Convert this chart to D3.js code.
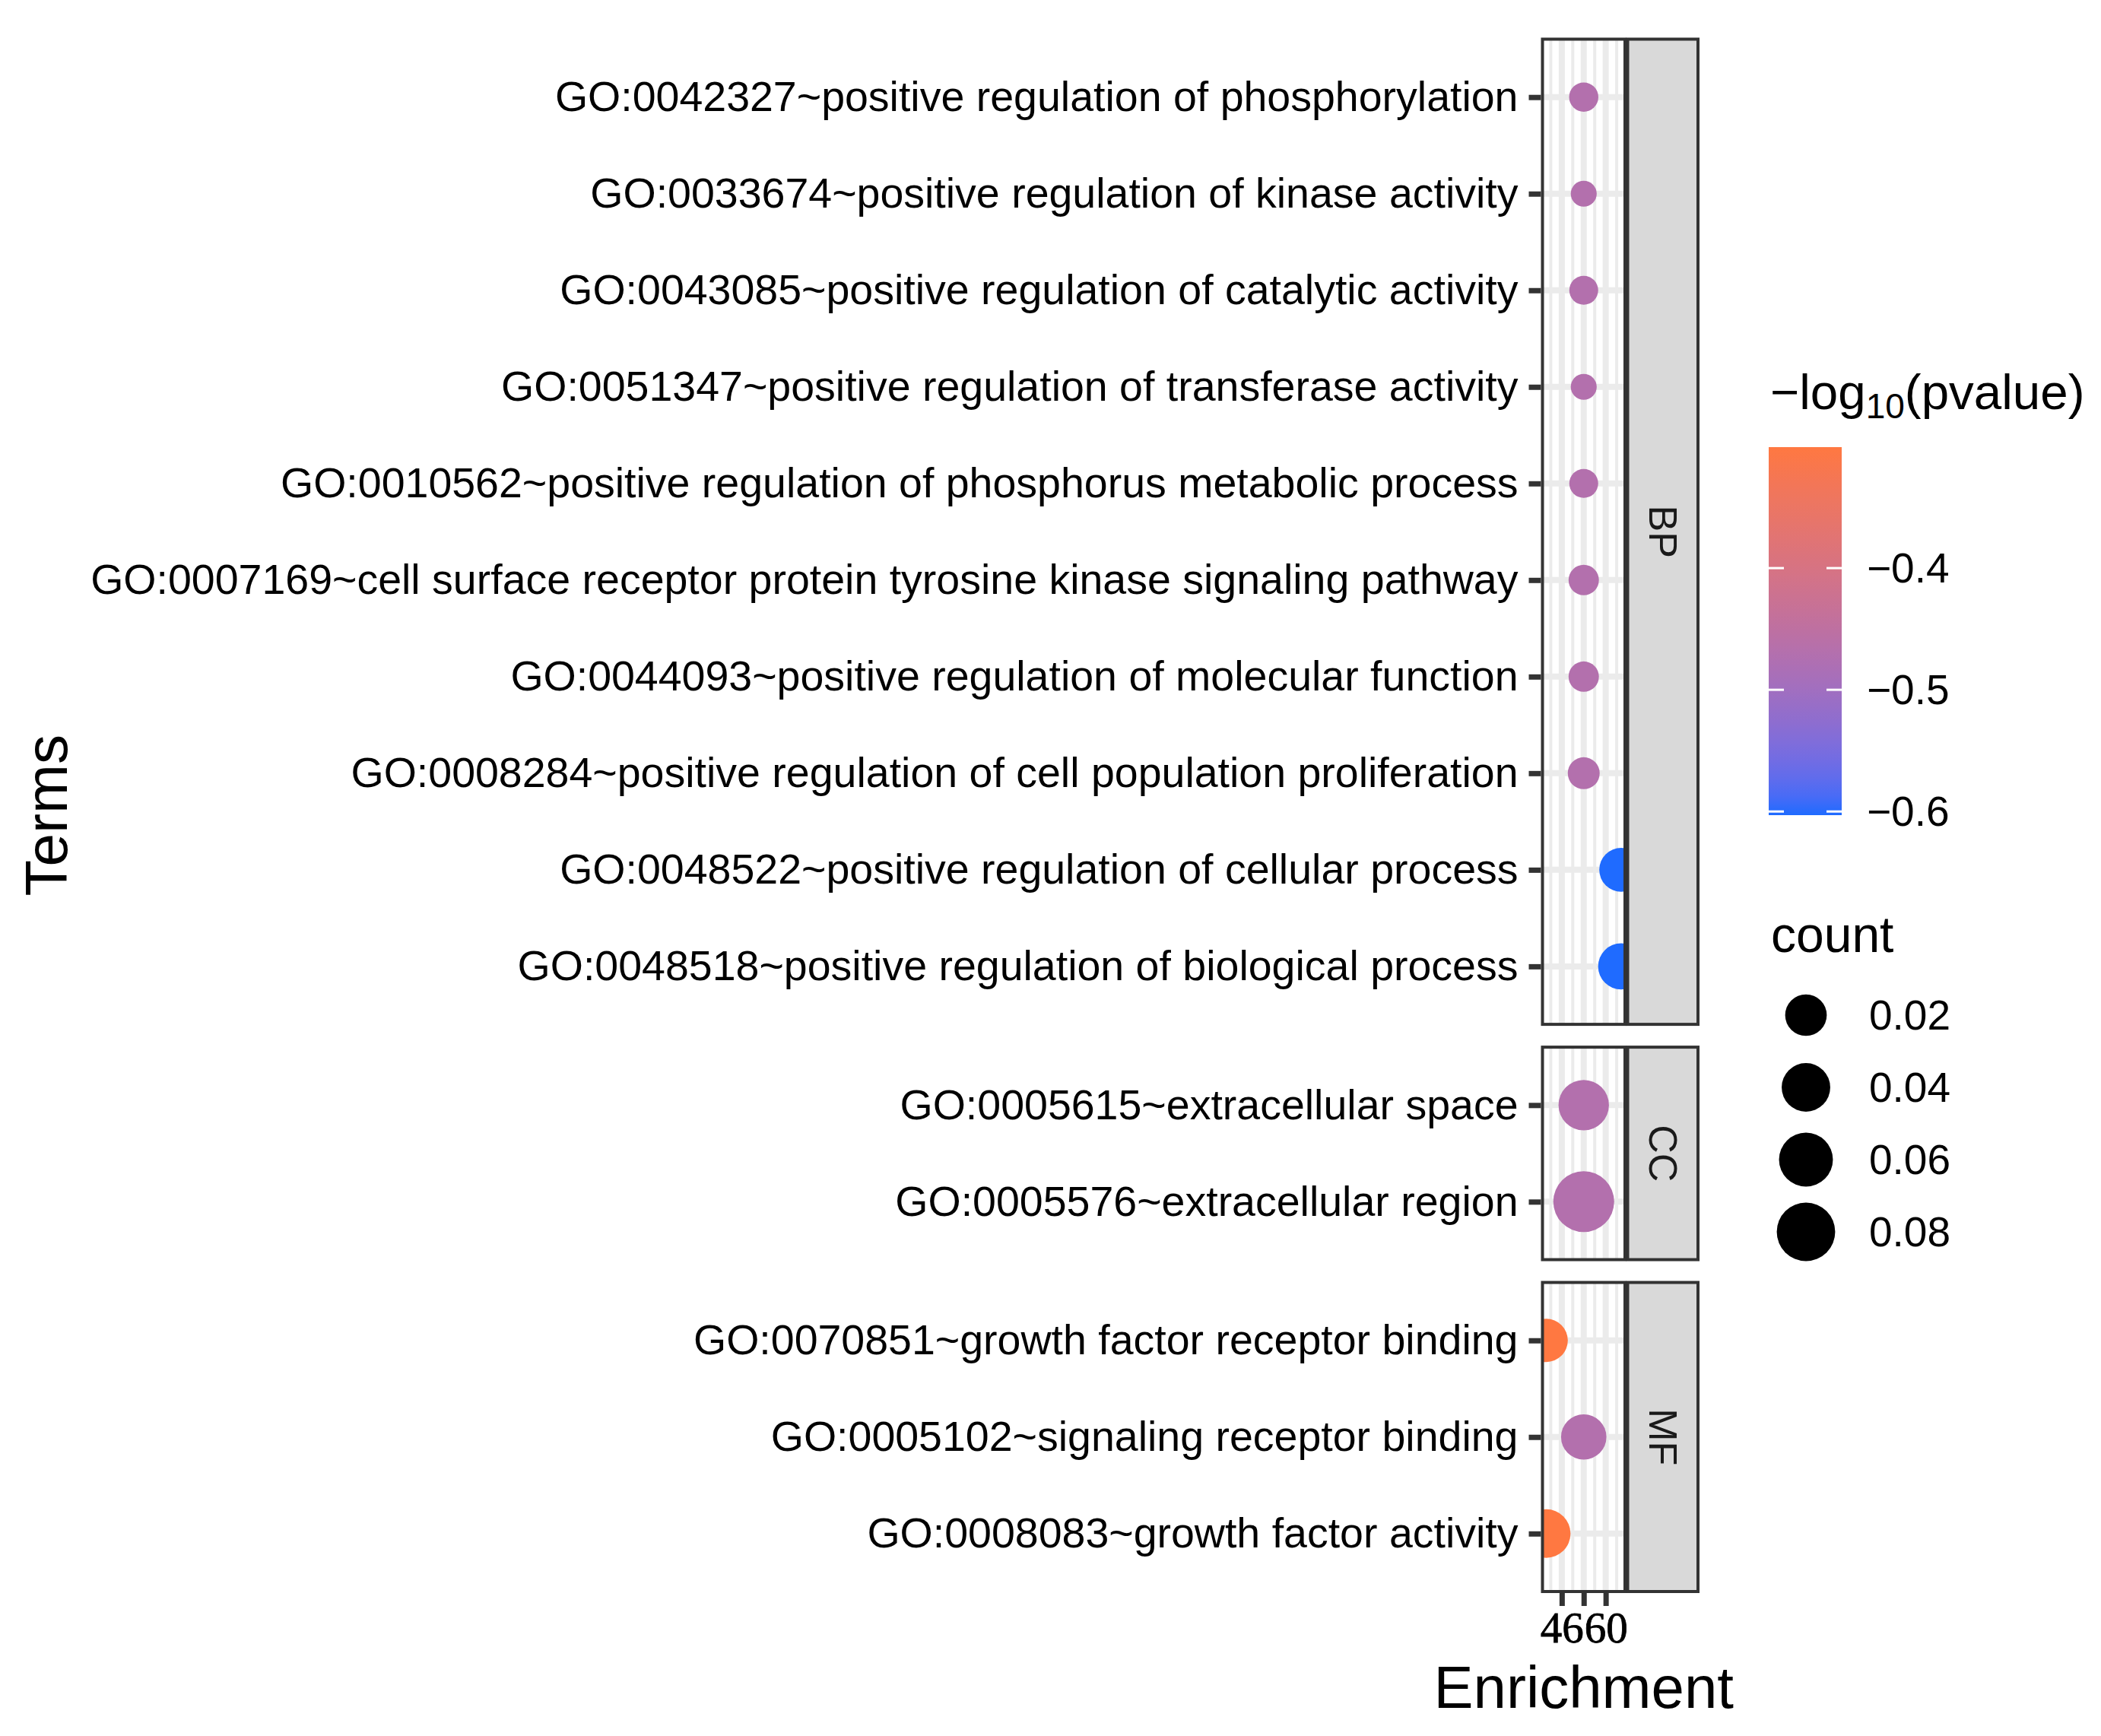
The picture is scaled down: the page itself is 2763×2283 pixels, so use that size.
<!DOCTYPE html>
<html>
<head>
<meta charset="utf-8">
<script src="https://cdn.jsdelivr.net/npm/d3@7"></script>
<style>
  html, body { margin: 0; padding: 0; background: #fff; }
  svg { display: block; }
</style>
</head>
<body>
<svg id="chart"></svg>
<script>
// GO terms, top to bottom inside each facet
const terms = [
  "GO:0042327~positive regulation of phosphorylation",
  "GO:0033674~positive regulation of kinase activity",
  "GO:0043085~positive regulation of catalytic activity",
  "GO:0051347~positive regulation of transferase activity",
  "GO:0010562~positive regulation of phosphorus metabolic process",
  "GO:0007169~cell surface receptor protein tyrosine kinase signaling pathway",
  "GO:0044093~positive regulation of molecular function",
  "GO:0008284~positive regulation of cell population proliferation",
  "GO:0048522~positive regulation of cellular process",
  "GO:0048518~positive regulation of biological process",
  "GO:0005615~extracellular space",
  "GO:0005576~extracellular region",
  "GO:0070851~growth factor receptor binding",
  "GO:0005102~signaling receptor binding",
  "GO:0008083~growth factor activity"
];
const category = ["BP","BP","BP","BP","BP","BP","BP","BP","BP","BP","CC","CC","MF","MF","MF"];
const enrichment = [53, 53, 53, 53, 53, 53, 53, 53, 64.95, 64.95, 53, 53, 41.05, 53, 41.05];
const logp = [-0.47, -0.47, -0.47, -0.47, -0.47, -0.47, -0.47, -0.47, -0.603, -0.603, -0.47, -0.47, -0.3006, -0.47, -0.3006];
const count = [0.0014, 0.0001, 0.0012, 0.0001, 0.0012, 0.0022, 0.0022, 0.0036, 0.026, 0.0325, 0.0465, 0.092, 0.024, 0.030, 0.040];

const facets = ["BP", "CC", "MF"];
const xTicks = [46, 53, 60];
const colorTicks = [-0.6, -0.5, -0.4];
const sizeBreaks = [0.02, 0.04, 0.06, 0.08];

const width = 2763, height = 2283;
const panelLeft = 2028.5, panelRight = 2137;
const stripLeft = 2140.5, stripRight = 2233;
const plotTop = 51.5, plotBottom = 2093, panelGap = 30;
const sans = "'Liberation Sans', Arial, Helvetica, sans-serif";
const dark = "#333333";
const grid = "#EBEBEB";

const data = terms.map((t, i) => ({term: t, cat: category[i], x: enrichment[i], p: logp[i], n: count[i]}));

const svg = d3.select("#chart")
    .attr("width", width)
    .attr("height", height)
    .attr("viewBox", [0, 0, width, height])
    .style("font-family", sans);

// x scale: data range expanded by 5% on each side (ggplot default)
const [xmin, xmax] = d3.extent(enrichment);
const pad = (xmax - xmin) * 0.05;
const x = d3.scaleLinear().domain([xmin - pad, xmax + pad]).range([panelLeft, panelRight]);

const color = d3.scaleLinear()
    .domain(d3.extent(logp))
    .range(["#1F6BFF", "#FF7841"])
    .interpolate(d3.interpolateLab);

const r = d3.scaleSqrt().domain([0, d3.max(count)]).range([16.3, 40]);

// facet heights proportional to (rows + 1.2)
const units = facets.map(f => category.filter(c => c === f).length + 0.2);
const unit = (plotBottom - plotTop - panelGap * (facets.length - 1)) / d3.sum(units);
let yTop = plotTop;

facets.forEach((f, fi) => {
  const rows = data.filter(d => d.cat === f);
  const h = units[fi] * unit;
  const y = d3.scalePoint().domain(rows.map(d => d.term)).range([yTop, yTop + h]).padding(0.6);
  const g = svg.append("g");

  g.append("clipPath").attr("id", "clip" + f)
    .append("rect").attr("x", panelLeft).attr("y", yTop).attr("width", panelRight - panelLeft).attr("height", h);

  const body = g.append("g").attr("clip-path", `url(#clip${f})`);
  body.append("rect").attr("x", panelLeft).attr("y", yTop)
      .attr("width", panelRight - panelLeft).attr("height", h).attr("fill", "#fff");

  // minor x grid
  const minor = d3.range(xTicks[0] - 3.5, xTicks[xTicks.length - 1] + 7, 7)
      .filter(v => v > x.domain()[0] && v < x.domain()[1]);
  body.selectAll(".minor").data(minor).join("line")
      .attr("x1", d => x(d)).attr("x2", d => x(d)).attr("y1", yTop).attr("y2", yTop + h)
      .attr("stroke", grid).attr("stroke-width", 4);
  body.selectAll(".major").data(xTicks).join("line")
      .attr("x1", d => x(d)).attr("x2", d => x(d)).attr("y1", yTop).attr("y2", yTop + h)
      .attr("stroke", grid).attr("stroke-width", 8);
  body.selectAll(".hgrid").data(rows).join("line")
      .attr("x1", panelLeft).attr("x2", panelRight)
      .attr("y1", d => y(d.term)).attr("y2", d => y(d.term))
      .attr("stroke", grid).attr("stroke-width", 8);

  body.selectAll("circle").data(rows).join("circle")
      .attr("cx", d => x(d.x)).attr("cy", d => y(d.term)).attr("r", d => r(d.n))
      .attr("fill", d => color(d.p));

  g.append("rect").attr("x", panelLeft).attr("y", yTop)
      .attr("width", panelRight - panelLeft).attr("height", h)
      .attr("fill", "none").attr("stroke", dark).attr("stroke-width", 4);

  // strip
  g.append("rect").attr("x", stripLeft).attr("y", yTop)
      .attr("width", stripRight - stripLeft).attr("height", h)
      .attr("fill", "#D9D9D9").attr("stroke", dark).attr("stroke-width", 4);
  g.append("text")
      .attr("transform", `translate(${(stripLeft + stripRight) / 2},${yTop + h / 2}) rotate(90)`)
      .attr("text-anchor", "middle").attr("dominant-baseline", "central")
      .attr("font-size", 52).attr("fill", "#1A1A1A").text(f);

  // y axis
  const yAxis = g.append("g").attr("transform", `translate(${panelLeft - 2},0)`)
      .call(d3.axisLeft(y).tickSize(16).tickPadding(14));
  yAxis.select(".domain").remove();
  yAxis.selectAll(".tick line").attr("stroke", dark).attr("stroke-width", 7);
  yAxis.selectAll(".tick text").attr("font-size", 55.5).attr("fill", "#000").attr("font-family", sans);

  if (fi === facets.length - 1) {
    const xAxis = g.append("g").attr("transform", `translate(0,${yTop + h + 2})`)
        .call(d3.axisBottom(x).tickValues(xTicks).tickSize(17).tickPadding(8).tickFormat(d3.format("d")));
    xAxis.select(".domain").remove();
    xAxis.selectAll(".tick line").attr("stroke", dark).attr("stroke-width", 7);
    xAxis.selectAll(".tick text").attr("font-size", 57).attr("fill", "#000")
        .attr("stroke", "#000").attr("stroke-width", 0.8)
        .attr("font-family", "'Liberation Serif', 'Times New Roman', serif");
    // drop overlapping labels: keep first and last, then the rest if free
    const labels = xAxis.selectAll(".tick text").nodes();
    const kept = [];
    const order = [0, labels.length - 1].concat(d3.range(1, labels.length - 1));
    order.forEach(i => {
      const b = labels[i].getBoundingClientRect();
      if (kept.some(k => b.left < k.right && b.right > k.left)) labels[i].remove();
      else kept.push(b);
    });
  }
  yTop += h + panelGap;
});

// axis titles
svg.append("text")
    .attr("x", (panelLeft + panelRight) / 2).attr("y", 2246)
    .attr("text-anchor", "middle").attr("font-size", 78).text("Enrichment");
svg.append("text")
    .attr("transform", `translate(88,${(plotTop + plotBottom) / 2}) rotate(-90)`)
    .attr("text-anchor", "middle").attr("font-size", 78).text("Terms");

// colour legend
const barX = 2326, barW = 96, barTop = 588, barBottom = 1072;
const cy = d3.scaleLinear().domain(color.domain()).range([barBottom, barTop]);
svg.append("text").attr("x", 2328).attr("y", 538).attr("font-size", 65.5)
    .call(t => t.append("tspan").text("\u2212log"))
    .call(t => t.append("tspan").attr("font-size", 46).attr("dy", 12).text("10"))
    .call(t => t.append("tspan").attr("dy", -12).text("(pvalue)"));

const grad = svg.append("defs").append("linearGradient").attr("id", "cbar")
    .attr("x1", 0).attr("y1", 1).attr("x2", 0).attr("y2", 0);
grad.selectAll("stop").data(d3.range(0, 1.0001, 0.05)).join("stop")
    .attr("offset", d => d)
    .attr("stop-color", d => color(color.domain()[0] + d * (color.domain()[1] - color.domain()[0])));
svg.append("rect").attr("x", barX).attr("y", barTop).attr("width", barW)
    .attr("height", barBottom - barTop).attr("fill", "url(#cbar)");
const ct = svg.append("g").selectAll("g").data(colorTicks).join("g")
    .attr("transform", d => `translate(0,${cy(d)})`);
ct.append("line").attr("x1", barX).attr("x2", barX + 20).attr("stroke", "#fff").attr("stroke-width", 3);
ct.append("line").attr("x1", barX + barW - 20).attr("x2", barX + barW).attr("stroke", "#fff").attr("stroke-width", 3);
ct.append("text").attr("x", 2455).attr("dominant-baseline", "central")
    .attr("font-size", 55).text(d3.format(".1f"));

// size legend
svg.append("text").attr("x", 2329).attr("y", 1252).attr("font-size", 66).text("count");
const sk = svg.append("g").selectAll("g").data(sizeBreaks).join("g")
    .attr("transform", (d, i) => `translate(2375,${1335 + i * 95})`);
sk.append("circle").attr("r", d => r(d)).attr("fill", "#000");
sk.append("text").attr("x", 83).attr("dominant-baseline", "central")
    .attr("font-size", 55).text(d3.format(".2f"));
</script>
</body>
</html>
